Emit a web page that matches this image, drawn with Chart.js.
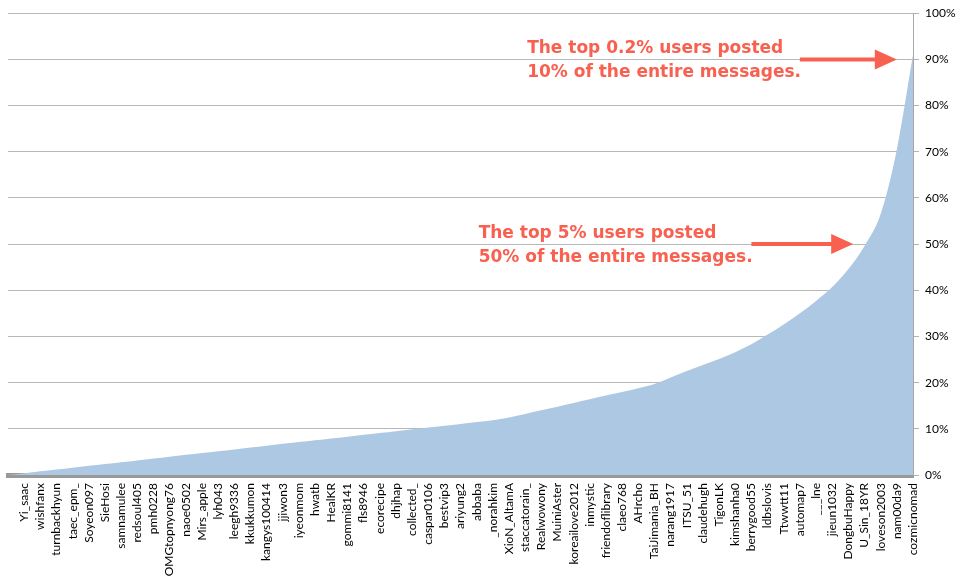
<!DOCTYPE html>
<html>
<head>
<meta charset="utf-8">
<script src="https://cdn.jsdelivr.net/npm/chart.js@4/dist/chart.umd.min.js"></script>
<style>
  html, body { margin: 0; padding: 0; background: #ffffff; }
  #wrap { width: 961px; height: 578px; }
</style>
</head>
<body>
<div id="wrap"><canvas id="c" width="961" height="578"></canvas></div>
<script>
// Users ranked by message count (leading '' = origin of the cumulative curve)
const users = ['', 'Yi_saac', 'wishfanx', 'turnbackhyun', 'taec_epm_', 'Soyeon097', 'SieHosi', 'samnamulee',
  'redsoul405', 'pmh0228', 'OMGtopnyong76', 'naoe0502', 'Mirs_apple', 'lyh043', 'leegh9336', 'kkukkumon',
  'kangys100414', 'jjiwon3', 'iyeonmom', 'hwatb', 'HealKR', 'gommi8141', 'fls8946', 'ecorecipe', 'dhjhap',
  'collected_', 'caspar0106', 'bestvip3', 'ariyung2', 'abbaba', '_norahkim', 'XioN_AltamA', 'staccatorain_',
  'Realwowony', 'MuiniAster', 'koreailove2012', 'inmystic', 'friendoflibrary', 'claeo768', 'AHrcho',
  'TaiJimania_BH', 'narang1917', 'ITSU_51', 'claudehugh', 'TigonLK', 'kimshanha0', 'berrygood55', 'ldbslovis',
  'Ttwwtt11', 'automap7', '___lne', 'jieun1032', 'DongbuHappy', 'U_Sin_18YR', 'loveson2003', 'nam00da9',
  'cozmicnomad'];

// Cumulative share of all messages (%)
const cumulativeShare = [0, 0.40, 0.79, 1.19, 1.58, 1.98, 2.38, 2.77, 3.16, 3.55, 3.97, 4.36, 4.75, 5.14, 5.54,
  5.93, 6.34, 6.74, 7.13, 7.52, 7.91, 8.30, 8.70, 9.11, 9.50, 9.90, 10.29, 10.68, 11.07, 11.49, 11.88,
  12.44, 13.2, 14.0, 14.8, 15.6, 16.4, 17.2, 18.0, 18.8, 19.7, 21.1, 22.5, 23.8, 25.1, 26.6, 28.3, 30.4,
  32.6, 35.0, 37.7, 40.7, 44.6, 49.6, 56.5, 70.5, 91.0];

// Y-axis ticks (%)
const yTicks = [0, 10, 20, 30, 40, 50, 60, 70, 80, 90, 100];

// Annotations: text lines, anchor category for text, arrow tail/tip categories, y value
const notes = [
  { lines: ['The top 0.2% users posted', '10% of the entire messages.'], textCat: 'staccatorain_', tailCat: 'automap7', tipCat: 'nam00da9', tipShift: 0.0, value: 90 },
  { lines: ['The top 5% users posted', '50% of the entire messages.'], textCat: 'abbaba', tailCat: 'berrygood55', tipCat: 'DongbuHappy', tipShift: 0.3, value: 50 }
];

const annotationPlugin = {
  id: 'notes',
  afterDraw(chart) {
    const ctx = chart.ctx;
    const xs = chart.scales.x, ys = chart.scales.y;
    const red = '#f8604f';
    notes.forEach(n => {
      const y = ys.getPixelForValue(n.value);
      const tx = xs.getPixelForValue(users.indexOf(n.textCat)) + 2;
      const x0 = xs.getPixelForValue(users.indexOf(n.tailCat));
      const x1 = xs.getPixelForValue(users.indexOf(n.tipCat) + n.tipShift);
      ctx.save();
      ctx.fillStyle = red;
      ctx.font = 'bold 17px "DejaVu Sans"';
      ctx.textBaseline = 'middle';
      ctx.textAlign = 'left';
      ctx.fillText(n.lines[0], tx, y - 11);
      ctx.fillText(n.lines[1], tx, y + 13);
      // arrow
      ctx.strokeStyle = red;
      ctx.lineWidth = 4;
      ctx.beginPath();
      ctx.moveTo(x0, y);
      ctx.lineTo(x1 - 20, y);
      ctx.stroke();
      ctx.beginPath();
      ctx.moveTo(x1, y);
      ctx.lineTo(x1 - 22, y - 10);
      ctx.lineTo(x1 - 22, y + 10);
      ctx.closePath();
      ctx.fill();
      ctx.restore();
    });
  }
};

new Chart(document.getElementById('c'), {
  type: 'line',
  data: {
    labels: users,
    datasets: [{
      data: cumulativeShare,
      fill: 'origin',
      backgroundColor: '#adc8e3',
      borderWidth: 0,
      borderColor: 'rgba(0,0,0,0)',
      pointRadius: 0,
      cubicInterpolationMode: 'monotone'
    }]
  },
  options: {
    responsive: false,
    animation: false,
    layout: { padding: { left: 8, top: 4, right: 0, bottom: 0 } },
    plugins: { legend: { display: false }, tooltip: { enabled: false } },
    scales: {
      x: {
        type: 'category',
        offset: false,
        z: 1,
        afterFit(axis) { axis.height = 103; },
        grid: { display: false, drawTicks: false },
        border: { display: true, color: '#999999', width: 5 },
        ticks: {
          autoSkip: false,
          maxRotation: 90,
          minRotation: 90,
          padding: 8,
          color: '#000000',
          font: { family: 'Lato', size: 12 }
        }
      },
      y: {
        position: 'right',
        min: 0,
        max: 100,
        z: 1,
        afterFit(axis) { axis.width = 48; },
        afterBuildTicks(axis) { axis.ticks = yTicks.map(v => ({ value: v })); },
        grid: {
          color: 'rgba(0,0,0,0.28)',
          lineWidth: 1,
          drawTicks: true,
          tickLength: 6,
          tickColor: 'rgba(0,0,0,0.3)'
        },
        border: { display: true, color: '#a8a8a8', width: 1 },
        ticks: {
          padding: 6,
          color: '#000000',
          font: { family: 'Lato', size: 12 },
          callback: v => v + '%'
        }
      }
    }
  },
  plugins: [annotationPlugin]
});
</script>
</body>
</html>
